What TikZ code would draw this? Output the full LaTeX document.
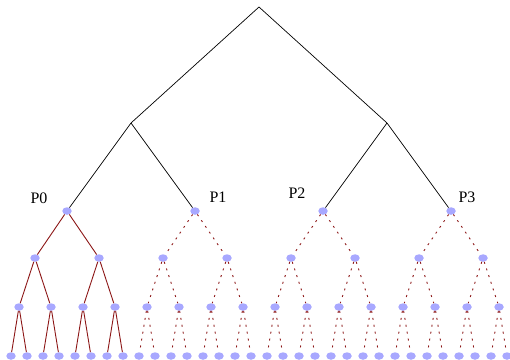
\documentclass[tikz,border=0pt]{standalone}
\usepackage{fontspec}
\setmainfont{Liberation Serif}
\usetikzlibrary{shapes.geometric}
\definecolor{nodeblue}{RGB}{168,168,255}
\definecolor{edgered}{RGB}{140,22,22}
\begin{document}
\begin{tikzpicture}[x=1pt,y=-1pt,
  vert/.style={ellipse,minimum width=9.5pt,minimum height=7.5pt,inner sep=0pt,fill=nodeblue,draw=none},
  topedge/.style={draw=black,line width=0.7pt},
  solidedge/.style={draw=edgered,line width=0.9pt},
  dashedge/.style={draw=edgered,line width=0.9pt,dash pattern=on 2pt off 5pt},
  lbl/.style={font=\fontsize{16}{18}\selectfont,inner sep=0pt}]
\useasboundingbox (0,0) rectangle (510,359);
% vertices
\coordinate (r) at (259,7);
\foreach \i in {0,1} \coordinate (a\i) at ({131+256*\i},123);
\foreach \i in {0,...,3} \node[vert] (b\i) at ({67+128*\i},211) {};
\foreach \i in {0,...,7} \node[vert] (c\i) at ({35+64*\i},258) {};
\foreach \i in {0,...,15} \node[vert] (d\i) at ({19+32*\i},307) {};
\foreach \i in {0,...,31} \node[vert] (e\i) at ({11+16*\i},356) {};
% top edges
\draw[topedge] (a0) -- (r) -- (a1);
\draw[topedge] (a0) -- (b0);
\draw[topedge] (a0) -- (b1);
\draw[topedge] (a1) -- (b2);
\draw[topedge] (a1) -- (b3);
% level c
\foreach \i in {0,1} {\pgfmathtruncatemacro\p{\i/2}\draw[solidedge] (b\p) -- (c\i);}
\foreach \i in {2,...,7} {\pgfmathtruncatemacro\p{\i/2}\draw[dashedge] (b\p) -- (c\i);}
% level d
\foreach \i in {0,...,3} {\pgfmathtruncatemacro\p{\i/2}\draw[solidedge] (c\p) -- (d\i);}
\foreach \i in {4,...,15} {\pgfmathtruncatemacro\p{\i/2}\draw[dashedge] (c\p) -- (d\i);}
% level e
\foreach \i in {0,...,7} {\pgfmathtruncatemacro\p{\i/2}\draw[solidedge] (d\p) -- (e\i);}
\foreach \i in {8,...,31} {\pgfmathtruncatemacro\p{\i/2}\draw[dashedge] (d\p) -- (e\i);}
% labels
\node[lbl] (p0) at (39,198) {P0};
\node[lbl] (p1) at (218,197) {P1};
\node[lbl] (p2) at (297,193.5) {P2};
\node[lbl] (p3) at (467,197.5) {P3};
\end{tikzpicture}
\end{document}
